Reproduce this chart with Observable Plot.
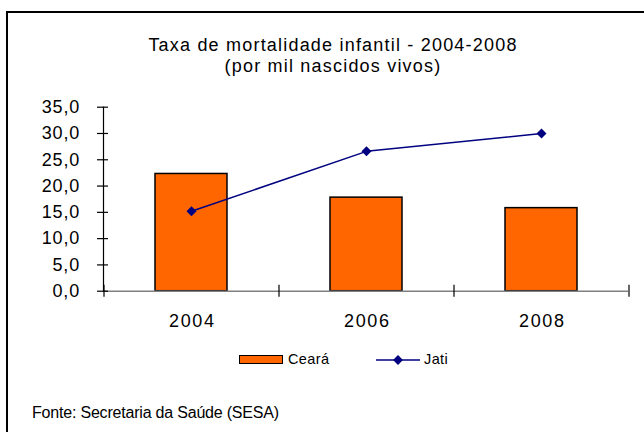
<!DOCTYPE html>
<html><head><meta charset="utf-8">
<script src="https://cdn.jsdelivr.net/npm/d3@7"></script>
<script src="https://cdn.jsdelivr.net/npm/@observablehq/plot@0.6"></script>
<style>
body{margin:0;background:#fff;font-family:"Liberation Sans",Arial,sans-serif;}
#wrap{position:relative;width:644px;height:432px;overflow:hidden;background:#fff;}
.bl{position:absolute;left:6px;top:11px;width:1.5px;height:430px;background:#000;}
.bt{position:absolute;left:6px;top:11px;width:640px;height:1.5px;background:#000;}
#title{position:absolute;left:0;top:34.5px;width:666px;text-align:center;font-size:18px;line-height:21px;letter-spacing:1.2px;color:#000;}
#chart{position:absolute;left:0;top:90px;}
#foot{position:absolute;left:32px;top:404.8px;font-size:16px;line-height:16px;letter-spacing:-0.2px;color:#000;white-space:nowrap;}
.lt{position:absolute;font-size:14.5px;line-height:14px;letter-spacing:0.4px;color:#000;white-space:nowrap;}
#sw{position:absolute;left:239px;top:355px;width:44px;height:9px;box-sizing:border-box;background:#FF6600;border:1px solid #000;}
#lj{position:absolute;left:374px;top:352px;}
</style></head><body>
<div id="wrap">
  <div class="bl"></div><div class="bt"></div>
  <div id="title"></div>
  <div id="chart"></div>
  <div id="sw"></div>
  <div class="lt" id="lc" style="left:288px;top:352px;"></div>
  <svg id="lj" width="50" height="16"><line x1="2" y1="8" x2="46" y2="8" stroke="#000080" stroke-width="1.5"/><rect x="20.5" y="4.5" width="7" height="7" fill="#000080" transform="rotate(45 24 8)"/></svg>
  <div class="lt" id="ljt" style="left:424px;top:352px;"></div>
  <div id="foot"></div>
</div>
<script>
const titleLines = ["Taxa de mortalidade infantil - 2004-2008", "(por mil nascidos vivos)"];
const years = ["2004", "2006", "2008"];
const ceara = [22.3, 17.8, 15.8];
const jati = [15.2, 26.6, 30.0];
const yTicks = [0, 5, 10, 15, 20, 25, 30, 35];
const seriesNames = ["Ceará", "Jati"];
const source = "Fonte: Secretaria da Saúde (SESA)";

document.getElementById("title").innerHTML = titleLines.join("<br>");
document.getElementById("lc").textContent = seriesNames[0];
document.getElementById("ljt").textContent = seriesNames[1];
document.getElementById("foot").textContent = source;

const barData = years.map((y, i) => ({year: y, value: ceara[i]}));
const lineData = years.map((y, i) => ({year: y, value: jati[i]}));

const W = 644, H = 250, mL = 103, mR = 16, mT = 16.7, mB = 49.3;
const plotW = W - mL - mR, plotH = H - mT - mB;
const step = plotW / years.length;
const fmt = d => d.toFixed(1).replace(".", ",");

const chart = Plot.plot({
  width: W, height: H,
  marginLeft: mL, marginRight: mR, marginTop: mT, marginBottom: mB,
  style: {fontFamily: "Liberation Sans, Arial, sans-serif", fontSize: "18px", background: "transparent", overflow: "visible", color: "#000"},
  x: {domain: years, paddingInner: 0.59, paddingOuter: 0.295, label: null},
  y: {domain: [0, 35], label: null},
  marks: [
    Plot.barY(barData, {x: "year", y: "value", fill: "#FF6600", stroke: "#000", strokeWidth: 1.5}),
    Plot.ruleY([0], {stroke: "#808080", strokeWidth: 1.5}),
    Plot.frame({anchor: "left", stroke: "#000", strokeWidth: 1.2}),
    Plot.tickX(years, {x: d => d, dx: -step / 2, insetTop: plotH - 6, insetBottom: -6, stroke: "#000", strokeWidth: 1.2}),
    Plot.tickX(years.slice(-1), {x: d => d, dx: step / 2, insetTop: plotH - 6, insetBottom: -6, stroke: "#000", strokeWidth: 1.2}),
    Plot.axisY(yTicks, {anchor: "left", tickSize: 11, dx: 5, text: null, stroke: "#000", strokeWidth: 1.2}),
    Plot.axisY(yTicks, {anchor: "left", tickSize: 0, tickPadding: 23.5, tickFormat: fmt, fontSize: 18}),
    Plot.axisX({anchor: "bottom", tickSize: 0, tickPadding: 23, fontSize: 18}),
    Plot.line(lineData, {x: "year", y: "value", stroke: "#000080", strokeWidth: 1.5}),
    Plot.dot(lineData, {x: "year", y: "value", symbol: "square", r: 4, rotate: 45, fill: "#000080", stroke: "none"})
  ]
});
d3.select(chart).selectAll('g[aria-label="y-axis tick label"] text').attr("letter-spacing", "0.8px");
d3.select(chart).selectAll('g[aria-label="x-axis tick label"] text').attr("letter-spacing", "1.6px").attr("dx", "0.8");
document.getElementById("chart").appendChild(chart);
</script>
</body></html>
